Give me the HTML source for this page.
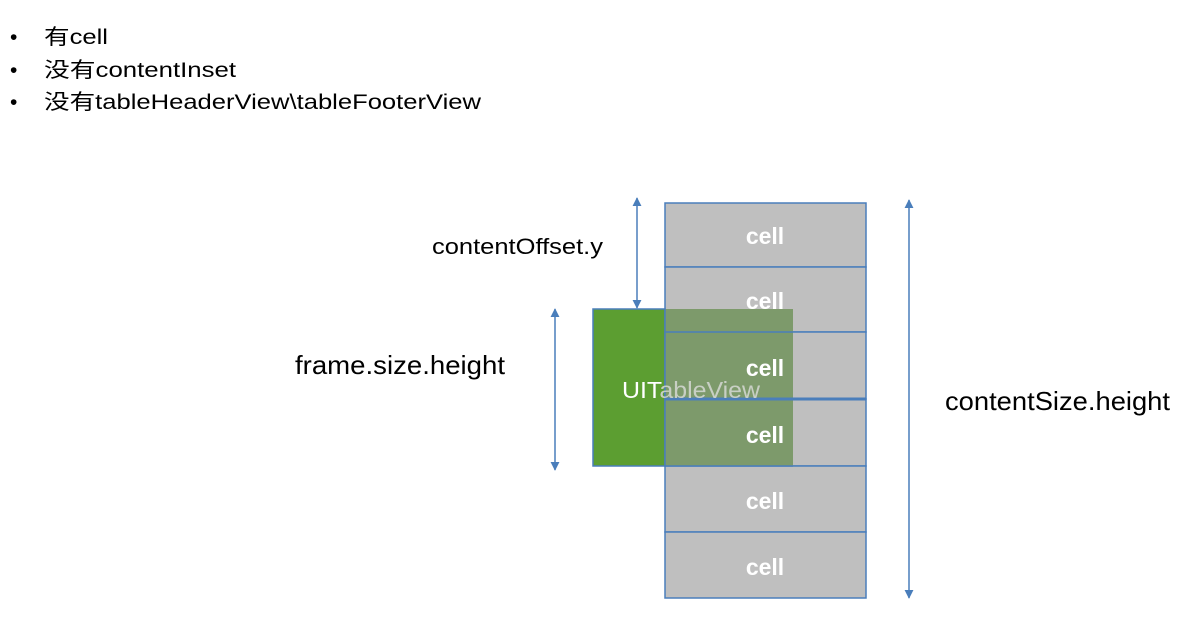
<!DOCTYPE html>
<html><head><meta charset="utf-8"><style>
body{margin:0;background:#fff;}
svg{display:block;}
text{font-family:"Liberation Sans","Noto Sans CJK SC",sans-serif;}
</style></head><body>
<svg width="1198" height="636" viewBox="0 0 1198 636" xmlns="http://www.w3.org/2000/svg">
<defs>
<marker id="a" viewBox="0 0 10 10" refX="9" refY="5" markerWidth="6" markerHeight="6" markerUnits="strokeWidth" orient="auto-start-reverse"><path d="M0,0L10,5L0,10z" fill="#4a7ebb"/></marker>
</defs>
<g font-size="21" fill="#000">
<text x="10" y="44">•</text><text x="44" y="44" textLength="64" lengthAdjust="spacingAndGlyphs">有cell</text>
<text x="10" y="77">•</text><text x="44" y="77" textLength="192" lengthAdjust="spacingAndGlyphs">没有contentInset</text>
<text x="10" y="109">•</text><text x="44" y="109" textLength="437" lengthAdjust="spacingAndGlyphs">没有tableHeaderView\tableFooterView</text>
</g>
<g stroke="#4a7ebb" stroke-width="1.5" fill="#bfbfbf">
<rect x="665" y="203" width="201" height="64"/>
<rect x="665" y="267" width="201" height="65"/>
<rect x="665" y="332" width="201" height="67"/>
<rect x="665" y="399" width="201" height="67"/>
<rect x="665" y="466" width="201" height="66"/>
<rect x="665" y="532" width="201" height="66"/>
</g>
<rect x="593" y="309" width="72" height="157" fill="#5c9e31" stroke="#4a7ebb" stroke-width="1.5"/>
<rect x="665" y="309" width="128" height="157" fill="#7d9a6b"/>
<g stroke="#4a7ebb" stroke-width="1.5" fill="none">
<line x1="665" y1="332" x2="793" y2="332"/><line x1="665" y1="466" x2="793" y2="466"/>
<line x1="665" y1="309" x2="665" y2="466"/>
</g>
<line x1="665" y1="399" x2="866" y2="399" stroke="#4a7ebb" stroke-width="3"/>
<text x="622" y="398" font-size="23" textLength="138" lengthAdjust="spacingAndGlyphs"><tspan fill="#fff">UIT</tspan><tspan fill="#c8cfc4">ableView</tspan></text>
<g font-size="23" fill="#fff" text-anchor="middle" font-weight="bold">
<text x="765" y="244">cell</text><text x="765" y="309">cell</text><text x="765" y="376">cell</text>
<text x="765" y="443">cell</text><text x="765" y="509">cell</text><text x="765" y="575">cell</text>
</g>
<g stroke="#4a7ebb" stroke-width="1.5" marker-start="url(#a)" marker-end="url(#a)">
<line x1="637" y1="198" x2="637" y2="308"/>
<line x1="555" y1="309" x2="555" y2="470"/>
<line x1="909" y1="200" x2="909" y2="598"/>
</g>
<g fill="#000">
<text x="432" y="254" font-size="22" textLength="171" lengthAdjust="spacingAndGlyphs">contentOffset.y</text>
<text x="295" y="374" font-size="26" textLength="210" lengthAdjust="spacingAndGlyphs">frame.size.height</text>
<text x="945" y="410" font-size="26" textLength="225" lengthAdjust="spacingAndGlyphs">contentSize.height</text>
</g>
</svg>
</body></html>
